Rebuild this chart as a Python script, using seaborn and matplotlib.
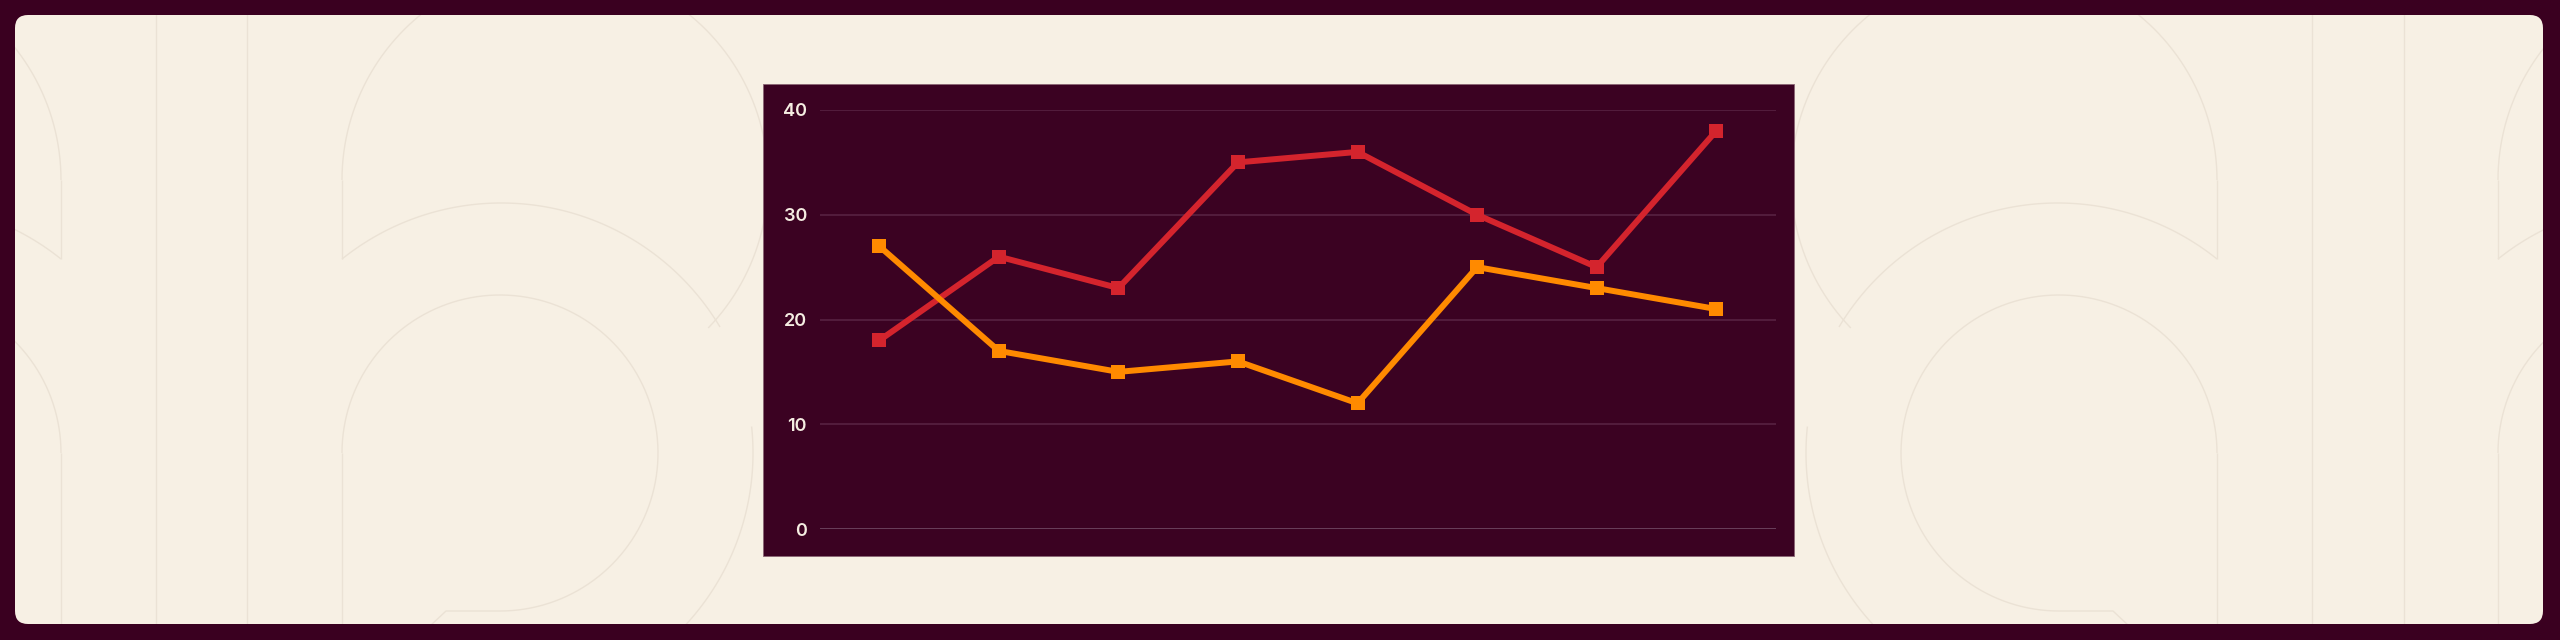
import matplotlib
matplotlib.use("Agg")

import numpy as np
import pandas as pd
import matplotlib.pyplot as plt
import seaborn as sns
from matplotlib.patches import FancyBboxPatch, Rectangle

# Data
points = [0, 1, 2, 3, 4, 5, 6, 7]
series_red = [18, 26, 23, 35, 36, 30, 25, 38]
series_orange = [27, 17, 15, 16, 12, 25, 23, 21]
y_ticks = [0, 10, 20, 30, 40]

# Colours
MAROON = '#3a0020'
PANEL = '#3b0222'
CREAM = '#f7f0e4'
DECOR = '#ebe2d5'
RED = '#d4242d'
ORANGE = '#ff8a00'
GRID = '#5a2444'
ZERO = '#77506a'
TICK = '#f5ede2'

W, H = 2560, 640

sns.set_theme(style='white')
plt.rcParams['font.family'] = ['Inter', 'DejaVu Sans']

fig = plt.figure(figsize=(W / 100, H / 100), dpi=100, facecolor=MAROON)

# background layer in pixel coords (y down)
bg = fig.add_axes([0, 0, 1, 1])
bg.set_xlim(0, W)
bg.set_ylim(H, 0)
bg.axis('off')

card = FancyBboxPatch((15, 15), 2528, 609, boxstyle='round,pad=0,rounding_size=13',
                      facecolor=CREAM, edgecolor='none', zorder=0)
bg.add_patch(card)


def arc(cx, cy, r, a0, a1, n=120):
    t = np.radians(np.linspace(a0, a1, n))
    return cx + r * np.cos(t), cy - r * np.sin(t)


def circle3(p1, p2, p3):
    ax_, ay_ = p1
    bx, by = p2
    cx, cy = p3
    d = 2 * (ax_ * (by - cy) + bx * (cy - ay_) + cx * (ay_ - by))
    ux = ((ax_**2 + ay_**2) * (by - cy) + (bx**2 + by**2) * (cy - ay_) + (cx**2 + cy**2) * (ay_ - by)) / d
    uy = ((ax_**2 + ay_**2) * (cx - bx) + (bx**2 + by**2) * (ax_ - cx) + (cx**2 + cy**2) * (bx - ax_)) / d
    return ux, uy, np.hypot(ax_ - ux, ay_ - uy)


def glyph_paths():
    """Outline of the faint letter shape, anchored on a vertical stem at x=342."""
    paths = []
    paths.append(arc(555, 180, 213, 180, -44))          # outer arch
    paths.append((np.array([342, 342]), np.array([180, 259])))
    ux, uy, r = circle3((342, 259), (500, 203), (720, 327))
    a0 = np.degrees(np.arctan2(-(259 - uy), 342 - ux))
    a1 = np.degrees(np.arctan2(-(327 - uy), 720 - ux))
    paths.append(arc(ux, uy, r, a0, a1))                 # shoulder
    bx, by = arc(500, 453, 158, 180, -90)                # bowl
    bx = np.append(bx, [446, 430])
    by = np.append(by, [611, 626])
    paths.append((bx, by))
    paths.append((np.array([342, 342]), np.array([453, 640])))
    paths.append(arc(500, 453, 253, 6, -46))             # outer bowl
    return paths


def draw_glyph(vx, sign):
    for px, py in glyph_paths():
        ln, = bg.plot(vx + sign * (px - 342), py, color=DECOR, lw=1.0, zorder=1,
                      solid_capstyle='butt')
        ln.set_clip_path(card)


draw_glyph(342, 1)
draw_glyph(2217, -1)
draw_glyph(61, -1)
draw_glyph(2498, 1)
for vx in [156, 247, 2312, 2404]:
    ln, = bg.plot([vx, vx], [0, H], color=DECOR, lw=1.0, zorder=1)
    ln.set_clip_path(card)

# chart panel
bg.add_patch(Rectangle((763, 84), 1031, 472, facecolor=PANEL,
                       edgecolor='#8a6574', lw=0.6, zorder=2))

# data axes
left, right, top, bottom = 819.5, 1776, 110, 529
ax = fig.add_axes([left / W, (H - bottom) / H, (right - left) / W, (bottom - top) / H])
ax.patch.set_alpha(0)

df = pd.DataFrame({
    'point': points * 2,
    'value': series_red + series_orange,
    'series': ['red'] * len(points) + ['orange'] * len(points),
})

for y in y_ticks:
    ax.axhline(y, color=ZERO if y == 0 else GRID, lw=1.1, zorder=1)

sns.lineplot(data=df, x='point', y='value', hue='series',
             palette={'red': RED, 'orange': ORANGE}, hue_order=['red', 'orange'],
             marker='s', markersize=9.8, markeredgewidth=0, linewidth=4.3,
             legend=False, ax=ax, zorder=3, clip_on=False)

ax.set_xlim(-0.5, 7.5)
ax.set_ylim(0, 40)
ax.set_yticks(y_ticks)
ax.set_xticks([])
ax.set_xlabel('')
ax.set_ylabel('')
ax.tick_params(axis='y', length=0, pad=9, labelsize=13, labelcolor=TICK)
for lab in ax.get_yticklabels():
    lab.set_fontweight('semibold')
for s in ax.spines.values():
    s.set_visible(False)
ax.grid(False)

fig.savefig('out.png', dpi=100, facecolor=MAROON)
